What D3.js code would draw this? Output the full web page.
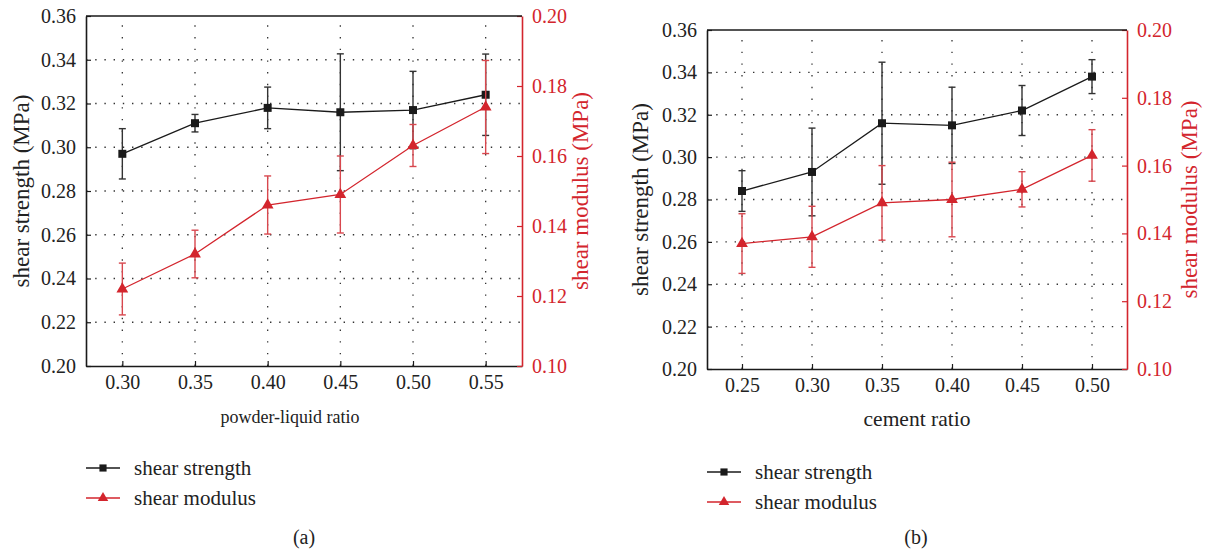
<!DOCTYPE html>
<html>
<head>
<meta charset="utf-8">
<title>shear strength and modulus</title>
<script src="https://cdn.jsdelivr.net/npm/d3@7"></script>
<style>
  body { margin: 0; background: #fff; }
  svg { display: block; font-family: "Liberation Serif", "DejaVu Serif", serif; }
  svg text { font-family: "Liberation Serif", "DejaVu Serif", serif !important; }
  .grid line { stroke: #333; stroke-width: 1.3; }
  .grid line.vg { stroke-dasharray: 1.4 10.3; }
  .grid line.hg { stroke-dasharray: 1.4 7.8; }
</style>
</head>
<body>
<svg id="chart" width="1208" height="554"></svg>
<script>
// panel (a): powder-liquid ratio
const ratioA = [0.30, 0.35, 0.40, 0.45, 0.50, 0.55];
const strengthA = [0.297, 0.311, 0.318, 0.316, 0.317, 0.324];
const strengthErrA = [0.0115, 0.004, 0.0095, 0.0267, 0.0177, 0.0186];
const modulusA = [0.122, 0.132, 0.146, 0.149, 0.163, 0.174];
const modulusErrA = [0.0074, 0.0068, 0.0083, 0.011, 0.006, 0.0133];

// panel (b): cement ratio
const ratioB = [0.25, 0.30, 0.35, 0.40, 0.45, 0.50];
const strengthB = [0.284, 0.293, 0.316, 0.315, 0.322, 0.338];
const strengthErrB = [0.0096, 0.0207, 0.0288, 0.018, 0.0118, 0.008];
const modulusB = [0.137, 0.139, 0.149, 0.150, 0.153, 0.163];
const modulusErrB = [0.0088, 0.009, 0.011, 0.011, 0.0052, 0.0076];

const leftTicks = [0.20, 0.22, 0.24, 0.26, 0.28, 0.30, 0.32, 0.34, 0.36];
const rightTicks = [0.10, 0.12, 0.14, 0.16, 0.18, 0.20];
const seriesNames = ["shear strength", "shear modulus"];

const RED = "#d3252d";
const BLACK = "#1a1a1a";
const svg = d3.select("#chart");

function drawPanel(p) {
  const x = d3.scaleLinear().domain(p.xDomain).range([p.left, p.right]);
  const yL = d3.scaleLinear().domain([0.20, 0.36]).range([p.bottom, p.top]);
  const yR = d3.scaleLinear().domain([0.10, 0.20]).range([p.bottom, p.top]);
  const g = svg.append("g");
  const midY = (p.top + p.bottom) / 2;

  // dotted grid
  const grid = g.append("g").attr("class", "grid");
  grid.selectAll(".vg").data(p.ratio).join("line").attr("class", "vg")
    .attr("x1", d => x(d)).attr("x2", d => x(d))
    .attr("y1", p.bottom).attr("y2", p.top);
  grid.selectAll(".hg").data(leftTicks.slice(1, -1)).join("line").attr("class", "hg")
    .attr("x1", p.left).attr("x2", p.right)
    .attr("y1", d => yL(d)).attr("y2", d => yL(d));

  // axes
  const fmt = d3.format(".2f");
  const ax = g.append("g").attr("transform", `translate(0,${p.bottom})`)
    .call(d3.axisBottom(x).tickValues(p.ratio).tickFormat(fmt).tickSizeInner(-5).tickSizeOuter(0).tickPadding(13));
  const axL = g.append("g").attr("transform", `translate(${p.left},0)`)
    .call(d3.axisLeft(yL).tickValues(leftTicks).tickFormat(fmt).tickSizeInner(-5).tickSizeOuter(0).tickPadding(10));
  const axR = g.append("g").attr("transform", `translate(${p.right},0)`)
    .call(d3.axisRight(yR).tickValues(rightTicks).tickFormat(fmt).tickSizeInner(-5).tickSizeOuter(0).tickPadding(10));
  [ax, axL, axR].forEach(a => a.attr("font-family", null).attr("font-size", 20));
  [ax, axL].forEach(a => {
    a.select(".domain").attr("stroke", BLACK).attr("stroke-width", 1.6);
    a.selectAll(".tick line").attr("stroke", BLACK).attr("stroke-width", 1.2);
    a.selectAll("text").attr("fill", "#222");
  });
  ax.selectAll("text").attr("dy", "0.5em");
  axR.select(".domain").attr("stroke", RED).attr("stroke-width", 1.6);
  axR.selectAll(".tick line").attr("stroke", RED).attr("stroke-width", 1.2);
  axR.selectAll("text").attr("fill", RED);
  // top frame line
  g.append("line").attr("x1", p.left).attr("x2", p.right).attr("y1", p.top).attr("y2", p.top)
    .attr("stroke", BLACK).attr("stroke-width", 1.6);

  // axis titles
  g.append("text").attr("x", p.xTitleX).attr("y", p.bottom + 57)
    .attr("text-anchor", "middle").style("font-size", p.xTitleSize + "px").attr("fill", "#222").text(p.xTitle);
  g.append("text").attr("transform", `translate(${p.yTitleL},${midY}) rotate(-90)`)
    .attr("text-anchor", "middle").style("font-size", "23px").attr("fill", "#222").text("shear strength (MPa)");
  g.append("text").attr("transform", `translate(${p.yTitleR},${midY}) rotate(-90)`)
    .attr("text-anchor", "middle").style("font-size", "23px").attr("fill", RED).text("shear modulus (MPa)");

  // series
  const series = [
    { vals: p.strength, err: p.strengthErr, y: yL, color: BLACK, errColor: "#333", sym: d3.symbolSquare, size: 64 },
    { vals: p.modulus, err: p.modulusErr, y: yR, color: RED, errColor: "#d8474e", sym: d3.symbolTriangle, size: 60 }
  ];
  series.forEach(s => {
    const pts = p.ratio.map((r, i) => ({ r: r, v: s.vals[i], e: s.err[i] }));
    const sg = g.append("g");
    sg.append("path").datum(pts)
      .attr("fill", "none").attr("stroke", s.color).attr("stroke-width", 1.3)
      .attr("d", d3.line().x(d => x(d.r)).y(d => s.y(d.v)));
    const eb = sg.selectAll(".eb").data(pts).join("g").attr("stroke", s.errColor).attr("stroke-width", 1.4);
    eb.append("line").attr("x1", d => x(d.r)).attr("x2", d => x(d.r))
      .attr("y1", d => s.y(d.v - d.e)).attr("y2", d => s.y(d.v + d.e));
    eb.append("line").attr("x1", d => x(d.r) - 3.5).attr("x2", d => x(d.r) + 3.5)
      .attr("y1", d => s.y(d.v + d.e)).attr("y2", d => s.y(d.v + d.e));
    eb.append("line").attr("x1", d => x(d.r) - 3.5).attr("x2", d => x(d.r) + 3.5)
      .attr("y1", d => s.y(d.v - d.e)).attr("y2", d => s.y(d.v - d.e));
    sg.selectAll(".mk").data(pts).join("path")
      .attr("transform", d => `translate(${x(d.r)},${s.y(d.v)})`)
      .attr("d", d3.symbol(s.sym, s.size)).attr("fill", s.color);
  });

  // legend
  const lg = g.append("g");
  series.forEach((s, i) => {
    const ly = p.legendY + i * 30;
    lg.append("line").attr("x1", p.legendX).attr("x2", p.legendX + 34).attr("y1", ly).attr("y2", ly)
      .attr("stroke", s.color).attr("stroke-width", 1.3);
    lg.append("path").attr("transform", `translate(${p.legendX + 17},${ly})`)
      .attr("d", d3.symbol(s.sym, s.size * 0.8)).attr("fill", s.color);
    lg.append("text").attr("x", p.legendX + 48).attr("y", ly).attr("dy", "0.32em")
      .style("font-size", "21px").attr("fill", "#222").text(seriesNames[i]);
  });
  g.append("text").attr("x", p.capX).attr("y", 538).attr("dy", "0.32em").attr("text-anchor", "middle")
    .style("font-size", "20px").attr("fill", "#222").text(p.caption);
}

drawPanel({
  left: 86, right: 522, top: 16, bottom: 366, xDomain: [0.275, 0.575],
  ratio: ratioA, strength: strengthA, strengthErr: strengthErrA, modulus: modulusA, modulusErr: modulusErrA,
  xTitle: "powder-liquid ratio", xTitleX: 290, xTitleSize: 18, yTitleL: 29, yTitleR: 588,
  legendX: 86, legendY: 468, capX: 304, caption: "(a)"
});
drawPanel({
  left: 707, right: 1127, top: 30, bottom: 369, xDomain: [0.225, 0.525],
  ratio: ratioB, strength: strengthB, strengthErr: strengthErrB, modulus: modulusB, modulusErr: modulusErrB,
  xTitle: "cement ratio", xTitleX: 917, xTitleSize: 21.5, yTitleL: 648, yTitleR: 1197,
  legendX: 707, legendY: 472, capX: 916, caption: "(b)"
});
</script>
</body>
</html>
